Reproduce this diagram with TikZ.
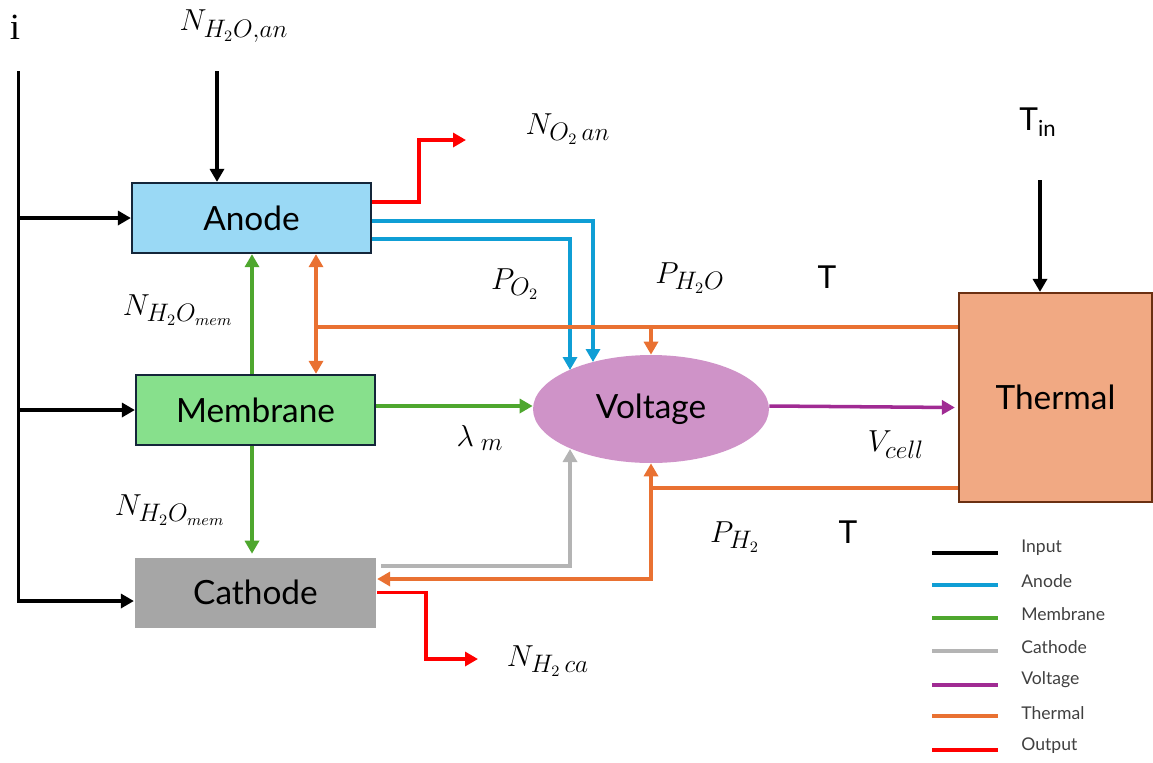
\documentclass[tikz,border=0pt]{standalone}
\usepackage{fontspec}
\setsansfont{Lato}
\newfontfamily\timesfont{Liberation Serif}
\usepackage{tikz}
\usetikzlibrary{positioning, arrows.meta, shapes.geometric, calc}
\usepackage{xcolor}
\definecolor{boxline}{HTML}{14263A}
\definecolor{anodefill}{HTML}{9AD9F5}
\definecolor{membfill}{HTML}{87E08C}
\definecolor{cathfill}{HTML}{A6A6A6}
\definecolor{voltfill}{HTML}{CF93C8}
\definecolor{thermfill}{HTML}{F1A983}
\definecolor{thermline}{HTML}{6B3012}
\definecolor{anblue}{HTML}{0F9ED5}
\definecolor{memgreen}{HTML}{4EA72E}
\definecolor{catgray}{HTML}{B4B4B4}
\definecolor{voltpurple}{HTML}{A02B93}
\definecolor{thorange}{HTML}{E97132}
\definecolor{outred}{HTML}{FF0000}
\tikzset{
    block/.style={
        rectangle, draw=boxline, line width=1.3pt,
        minimum width=4.78cm, minimum height=1.4cm,
        inner sep=0pt,
        font=\sffamily\fontsize{19}{22}\selectfont
    },
    volt_node/.style={
        ellipse, fill=voltfill,
        minimum width=4.72cm, minimum height=2.16cm,
        inner sep=0pt,
        font=\sffamily\fontsize{19}{22}\selectfont
    },
    lbl/.style={
        font=\fontsize{19}{22}\selectfont, inner sep=1pt
    },
    sf_lbl/.style={
        font=\sffamily\fontsize{18}{21}\selectfont, inner sep=1pt
    },
    link/.style={
        -{Triangle[length=2.6mm, width=2.8mm]}, line width=2pt
    },
    key_line/.style={
        line width=2pt
    },
    key_text/.style={
        anchor=west, inner sep=0pt, text=black!75,
        font=\sffamily\fontsize{10}{12}\selectfont
    }
}

\begin{document}
\begin{tikzpicture}[x=0.02cm, y=-0.02cm, >=Stealth]
\useasboundingbox (0,0) rectangle (1153,762);

% blocks
\node[block, fill=anodefill] (anode) at (251.5,218) {Anode};
\node[block, fill=membfill] (memb) at (255.5,410) {Membrane};
\node[block, fill=cathfill, draw=none, minimum width=4.82cm] (cath) at (255.5,592.5) {Cathode};
\node[volt_node] (volt) at (651,409) {Voltage};
\node[block, fill=thermfill, draw=thermline, minimum width=3.86cm, minimum height=4.18cm] (therm) at (1055.5,397.5) {Thermal};

% inputs
\node[font=\timesfont\fontsize{21}{24}\selectfont, inner sep=0pt] (cur) at (15,27) {i};
\coordinate (ctop) at (18.5,71);
\coordinate (cbot) at (18.5,601);
\draw[link] (ctop) -- (cbot) -- (cbot -| cath.west);
\draw[link] (ctop |- anode.west) -- (anode.west);
\draw[link] (ctop |- memb.west) -- (memb.west);

\node[lbl] (nwan) at (234,26) {$N_{H_2O,an}$};
\coordinate (wtop) at (217,71);
\draw[link] (wtop) -- (wtop |- anode.north);

\node[sf_lbl] (tin) at (1038,122) {T\textsubscript{in}};
\coordinate (ttop) at (1040,180);
\draw[link] (ttop) -- (ttop |- therm.north);

% anode
\coordinate (o2a) at ($(anode.east)+(0,-16)$);
\coordinate (o2b) at (419,140);
\coordinate (o2c) at (466,140);
\draw[link, outred] (o2a) -| (o2b) -- (o2c);
\node[lbl] (no2) at (568,129) {$N_{O_2\,an}$};

\coordinate (pa1) at ($(anode.east)+(0,3)$);
\coordinate (pa2) at ($(anode.east)+(0,21)$);
\coordinate (va1) at (593,362);
\coordinate (va2) at (570,370);
\draw[link, anblue] (pa1) -| (va1);
\draw[link, anblue] (pa2) -| (va2);
\node[lbl] (po2) at (515,284) {$P_{O_2}$};

% membrane
\coordinate (gcol) at (252,0);
\draw[link, memgreen] (gcol |- memb.north) -- (gcol |- anode.south);
\draw[link, memgreen, shorten >=1.5pt] (gcol |- memb.south) -- (gcol |- cath.north);
\draw[link, memgreen] ($(memb.east)+(0,-4)$) -- ($(volt.west)+(0,-3)$);
\node[lbl] (nm1) at (178,310) {$N_{H_2O_{mem}}$};
\node[lbl] (nm2) at (170,510) {$N_{H_2O_{mem}}$};
\node[lbl] (lam) at (480,438) {$\lambda_{\;m}$};

% thermal
\coordinate (tcol) at (316,327);
\draw[thorange, line width=2pt] (tcol) -- (tcol -| therm.west);
\draw[link, thorange, {Triangle[length=2.6mm, width=2.8mm]}-{Triangle[length=2.6mm, width=2.8mm]}] (tcol |- anode.south) -- (tcol |- memb.north);
\draw[link, thorange] (volt.north |- tcol) -- (volt.north);
\coordinate (tlow) at (653,488);
\draw[link, thorange] (tlow -| therm.west) -| (volt.south);
\draw[link, thorange] (volt.south |- tlow) |- ($(cath.east)+(0,-13.5)$);
\node[lbl] (ph2o) at (690,278) {$P_{H_2O}$};
\node[sf_lbl] (t1) at (827,277) {T};
\node[lbl] (ph2) at (735,537) {$P_{H_2}$};
\node[sf_lbl] (t2) at (848,532) {T};

% cathode
\coordinate (gc1) at ($(cath.east)+(4,-26.5)$);
\coordinate (vc1) at (570,449);
\draw[link, catgray] (gc1) -| (vc1);
\coordinate (h2b) at (426,659);
\coordinate (h2c) at (478,659);
\draw[link, outred] (cath.east) -| (h2b) -- (h2c);
\node[lbl] (nh2) at (548,661) {$N_{H_2\,ca}$};

% voltage
\draw[link, voltpurple] ($(volt.east)+(0,-3)$) -- ($(therm.west)+(-3,10)$);
\node[lbl] (vcell) at (896,445) {$V_{cell}$};

% key
\node[key_text] (k1) at (1021,548) {Input};
\node[key_text] (k2) at (1021,581) {Anode};
\node[key_text] (k3) at (1021,614) {Membrane};
\node[key_text] (k4) at (1021,647) {Cathode};
\node[key_text] (k5) at (1021,680) {Voltage};
\node[key_text] (k6) at (1021,713) {Thermal};
\node[key_text] (k7) at (1021,746) {Output};
\draw[key_line, black] ($(k1.west)+(-89,5)$) -- ++(66,0);
\draw[key_line, anblue] ($(k2.west)+(-89,4)$) -- ++(66,0);
\draw[key_line, memgreen] ($(k3.west)+(-89,4)$) -- ++(66,0);
\draw[key_line, catgray] ($(k4.west)+(-89,4)$) -- ++(66,0);
\draw[key_line, voltpurple] ($(k5.west)+(-89,5)$) -- ++(66,0);
\draw[key_line, thorange] ($(k6.west)+(-89,3)$) -- ++(66,0);
\draw[key_line, outred] ($(k7.west)+(-89,4)$) -- ++(66,0);

\end{tikzpicture}
\end{document}
